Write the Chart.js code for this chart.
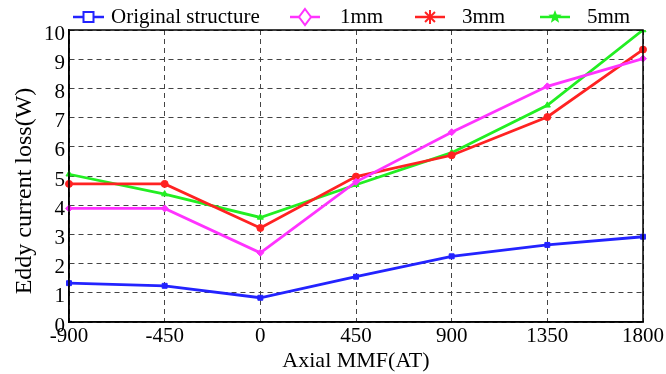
<!DOCTYPE html>
<html><head><meta charset="utf-8">
<script src="https://cdn.jsdelivr.net/npm/chart.js@4/dist/chart.umd.min.js"></script>
<style>html,body{margin:0;padding:0;background:#fff}#wrap{width:666px;height:374px}</style>
</head><body><div id="wrap"><canvas id="c" width="666" height="374"></canvas></div>
<script>
const categories = ['-900','-450','0','450','900','1350','1800'];
const original = [1.33, 1.24, 0.83, 1.55, 2.25, 2.64, 2.92];
const mm1 = [3.89, 3.89, 2.37, 4.80, 6.50, 8.07, 9.02];
const mm3 = [4.73, 4.73, 3.22, 4.98, 5.71, 7.02, 9.33];
const mm5 = [5.06, 4.38, 3.58, 4.70, 5.80, 7.42, 10.0];
const seriesNames = ['Original structure','1mm','3mm','5mm'];
const yTicks = [0,1,2,3,4,5,6,7,8,9,10];
const yTitle = 'Eddy current loss(W)';

const FONT = '"Liberation Serif","Times New Roman",serif';
const colors = ['#2323ff','#ff33ff','#ff2222','#22ee22'];
const styles = ['rect','rectRot','circle','triangle'];

const legendPlugin = {
  id:'customLegend',
  afterDraw(chart){
    const ctx = chart.ctx;
    const items = [
      {x1:73,x2:104,tx:111},
      {x1:290,x2:320,tx:340},
      {x1:415,x2:445,tx:462},
      {x1:540,x2:570,tx:587}
    ];
    const y = 17;
    ctx.save();
    items.forEach((it,i)=>{
      ctx.strokeStyle = colors[i]; ctx.lineWidth = 2.5;
      ctx.beginPath(); ctx.moveTo(it.x1,y); ctx.lineTo(it.x2,y); ctx.stroke();
      const cx=(it.x1+it.x2)/2;
      ctx.lineWidth=2;
      if(i===0){ ctx.fillStyle='#fff'; ctx.fillRect(cx-5,y-5,10,10); ctx.strokeRect(cx-5,y-5,10,10); }
      else if(i===1){ ctx.fillStyle='#fff'; ctx.beginPath(); ctx.moveTo(cx,y-8);ctx.lineTo(cx+6,y);ctx.lineTo(cx,y+8);ctx.lineTo(cx-6,y);ctx.closePath();ctx.fill();ctx.stroke(); }
      else if(i===2){ ctx.beginPath(); for(let k=0;k<4;k++){const a=k*Math.PI/4; ctx.moveTo(cx-7*Math.cos(a),y-7*Math.sin(a)); ctx.lineTo(cx+7*Math.cos(a),y+7*Math.sin(a));} ctx.stroke(); }
      else { ctx.fillStyle=colors[i]; ctx.beginPath(); for(let k=0;k<10;k++){const r=k%2?3:7; const a=-Math.PI/2+k*Math.PI/5; ctx.lineTo(cx+r*Math.cos(a),y+r*Math.sin(a));} ctx.closePath(); ctx.fill(); }
      ctx.fillStyle='#000'; ctx.font='21px '+FONT; ctx.textBaseline='middle'; ctx.textAlign='left';
      ctx.fillText(seriesNames[i], it.tx, y);
    });
    const a=chart.chartArea;
    ctx.strokeStyle='#000'; ctx.lineWidth=1.5; ctx.setLineDash([]);
    ctx.strokeRect(a.left,a.top,a.right-a.left,a.bottom-a.top);
    // y axis title
    ctx.translate(25,191); ctx.rotate(-Math.PI/2);
    ctx.font='24px '+FONT; ctx.textAlign='center'; ctx.textBaseline='middle'; ctx.fillStyle='#000';
    ctx.fillText(yTitle,0,0);
    ctx.restore();
  }
};

const data = [original, mm1, mm3, mm5];
new Chart(document.getElementById('c'), {
  type:'line',
  data:{
    labels: categories,
    datasets: data.map((d,i)=>({
      label: seriesNames[i], data: d,
      borderColor: colors[i], backgroundColor: colors[i],
      borderWidth: 2.8, pointStyle: styles[i], pointRadius: 3.5,
      pointBorderWidth: 1, tension: 0, fill:false
    }))
  },
  options:{
    responsive:false, animation:false,
    layout:{padding:{left:0,right:9,top:30,bottom:0}},
    plugins:{legend:{display:false}, tooltip:{enabled:false}},
    scales:{
      x:{
        type:'category', offset:false,
        grid:{color:'#444', lineWidth:1, drawTicks:false},
        border:{display:true,color:'#000',width:1.5,dash:[5,4]},
        ticks:{color:'#000', font:{family:FONT,size:21}, padding:2, maxRotation:0, autoSkip:false},
        title:{display:true,text:'Axial MMF(AT)',color:'#000',font:{family:FONT,size:22},padding:{top:0,bottom:0}},
        afterFit(s){ s.height=52; }
      },
      y:{
        min:0,max:10,
        afterBuildTicks(s){ s.ticks = yTicks.map(v=>({value:v})); },
        grid:{color:'#444', lineWidth:1, drawTicks:false},
        border:{display:true,color:'#000',width:1.5,dash:[5,4]},
        ticks:{color:'#000', font:{family:FONT,size:21}, padding:4, labelOffset:4},
        afterFit(s){ s.width=69; }
      }
    }
  },
  plugins:[legendPlugin]
});
</script>
</body></html>
